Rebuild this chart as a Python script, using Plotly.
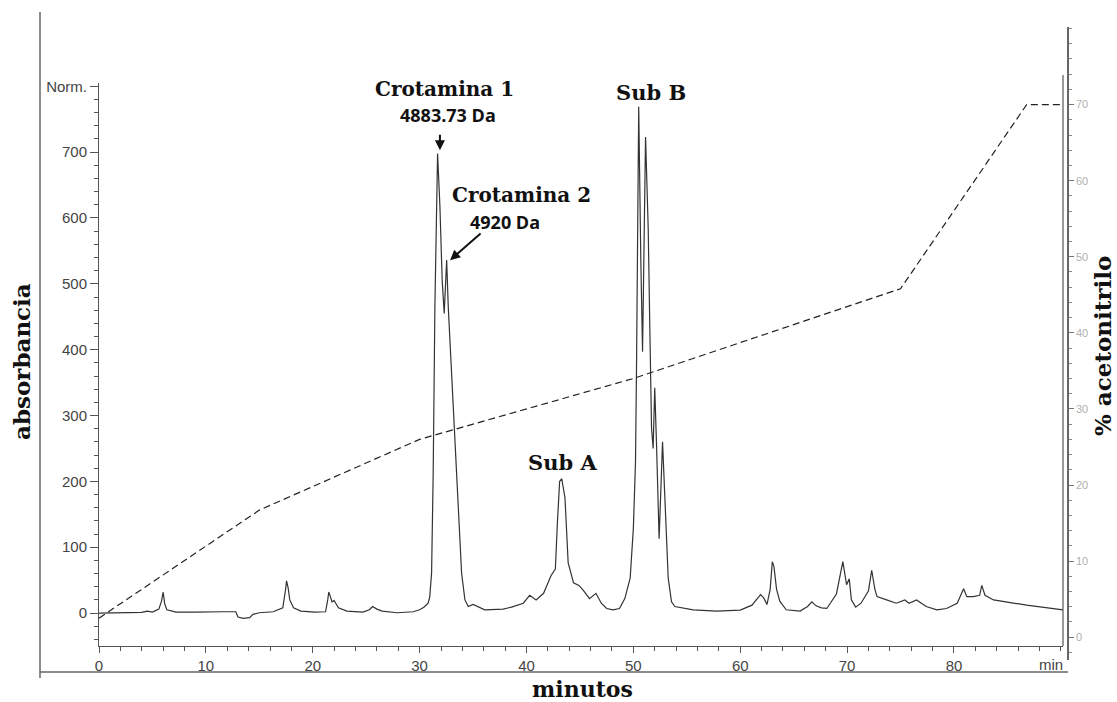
import plotly.graph_objects as go

# ---------------- data ----------------
time_min = [0.0, 1.0, 2.5, 4.0, 4.5, 5.0, 5.6, 5.85, 6.0, 6.15, 6.35, 6.7, 7.2, 9.0, 10.0, 11.5,
            12.8, 13.0, 13.5, 14.1, 14.4, 15.0, 16.3, 16.8, 17.2, 17.45, 17.55, 17.7, 17.85, 18.2,
            18.9, 20.2, 21.2, 21.4, 21.5, 21.65, 21.8, 22.0, 22.4, 23.2, 24.7, 25.3, 25.6, 26.0,
            26.5, 27.9, 29.4, 30.0, 30.4, 30.8, 30.95, 31.12, 31.27, 31.43, 31.59, 31.68, 31.9,
            32.11, 32.3, 32.53, 32.68, 32.99, 33.3, 33.61, 33.93, 34.24, 34.55, 35.0, 35.5, 36.1,
            37.8, 38.6, 39.7, 40.3, 40.9, 41.6, 42.3, 42.7, 42.9, 43.1, 43.3, 43.6, 43.9, 44.4,
            44.9, 45.3, 45.9, 46.5, 47.0, 47.5, 48.1, 48.7, 49.2, 49.7, 50.0, 50.2, 50.3, 50.4,
            50.45, 50.5, 50.7, 50.86, 51.14, 51.39, 51.54, 51.7, 51.85, 52.0, 52.17, 52.41, 52.73,
            52.95, 53.26, 53.57, 53.88, 55.6, 57.8, 60.0, 61.1, 61.5, 61.9, 62.2, 62.5, 62.8, 63.0,
            63.15, 63.4, 63.7, 64.3, 65.6, 66.3, 66.7, 67.1, 67.6, 68.1, 69.0, 69.4, 69.6, 69.8,
            69.95, 70.2, 70.4, 70.8, 71.3, 72.0, 72.3, 72.6, 72.8, 73.7, 74.6, 75.4, 75.8, 76.5,
            77.4, 78.4, 79.3, 80.3, 80.9, 81.2, 81.8, 82.4, 82.6, 82.9, 83.7, 86.8, 90.2]
absorbance = [0, 0, 0.5, 1, 3, 1.5, 6, 18, 32, 14, 5, 4, 1.5, 1.5, 2, 2,
              2, -6, -8, -7, -2, 0.5, 2, 6, 8, 35, 49, 38, 20, 8,
              3, 1.5, 2, 20, 32, 25, 17, 19, 8, 3, 1.5, 5, 10, 6,
              3, 0.5, 2, 5, 9, 15, 25, 61, 213, 465, 668, 698, 617,
              506, 455, 536, 465, 364, 263, 161, 60, 20, 10, 13, 9, 5,
              6, 9, 15, 27, 20, 30, 57, 67, 140, 200, 204, 175, 76, 46,
              42, 35, 22, 30, 15, 7, 5, 7, 22, 53, 129, 230, 382, 584,
              736, 769, 533, 397, 723, 584, 433, 281, 250, 342, 255, 113, 260,
              179, 53, 17, 10, 5, 3, 4.5, 12, 20, 28, 23, 13, 36, 78,
              71, 36, 18, 5, 3, 10, 17, 11, 8, 7, 29, 60, 78, 58,
              43, 52, 20, 9, 15, 34, 65, 36, 25, 20, 15, 20, 15, 20,
              10, 5, 7, 15, 37, 25, 25, 27, 42, 27, 20, 12, 5]

grad_time = [0, 15, 30, 50, 75, 86.8, 90.2]
grad_pct = [2.5, 16.7, 26.0, 34, 45.8, 70, 70]

x_ticks = [0, 10, 20, 30, 40, 50, 60, 70, 80]
y_ticks = [0, 100, 200, 300, 400, 500, 600, 700, 800]
y_ticktext = ["0", "100", "200", "300", "400", "500", "600", "700", "Norm."]
y2_ticks = [0, 10, 20, 30, 40, 50, 60, 70]

# ---------------- geometry helpers (layout only) ----------------
W, H = 1117, 702
ML, MR, MT, MB = 99, 49, 27, 42
PW = W - ML - MR
PH = H - MT - MB


def px(x):
    return (x - ML) / PW


def py(y):
    return (H - MB - y) / PH


fig = go.Figure()

fig.add_trace(go.Scatter(x=time_min, y=absorbance, mode="lines",
                         line=dict(color="#333333", width=1.2),
                         xaxis="x", yaxis="y", showlegend=False, hoverinfo="skip"))
fig.add_trace(go.Scatter(x=grad_time, y=grad_pct, mode="lines",
                         line=dict(color="#222222", width=1.2, dash="7px,4px"),
                         xaxis="x2", yaxis="y2", showlegend=False, hoverinfo="skip"))

tickfont = dict(family="Liberation Sans, Arial, sans-serif", size=15, color="#444444")
xdom = [0, px(1063)]

fig.update_layout(
    width=W, height=H,
    margin=dict(l=ML, r=MR, t=MT, b=MB),
    paper_bgcolor="white", plot_bgcolor="rgba(0,0,0,0)",
    xaxis=dict(domain=xdom, range=[0, 90.2], anchor="y",
               tickmode="array", tickvals=x_ticks, ticks="outside", ticklen=6,
               tickcolor="#555", tickfont=tickfont, showline=True, linecolor="#555",
               linewidth=1, showgrid=False, zeroline=False,
               minor=dict(dtick=2, ticks="outside", ticklen=4, tickcolor="#555")),
    yaxis=dict(domain=[py(646), py(83)], range=[-50, 805], anchor="x",
               tickmode="array", tickvals=y_ticks, ticktext=y_ticktext,
               ticks="outside", ticklen=8, tickcolor="#555", tickfont=tickfont,
               showline=True, linecolor="#555", linewidth=1, showgrid=False, zeroline=False,
               minor=dict(dtick=20, ticks="outside", ticklen=4, tickcolor="#555")),
    xaxis2=dict(domain=xdom, range=[0, 90.2], anchor="y2", visible=False),
    yaxis2=dict(domain=[0, 1], range=[-3.0, 80.2], anchor="free", position=1.0,
                side="right", tickmode="array", tickvals=y2_ticks, ticks="outside",
                ticklen=5, tickcolor="#777",
                tickfont=dict(family="Liberation Sans, Arial, sans-serif", size=11,
                              color="#b0b0b0"),
                showline=True, linecolor="#666", linewidth=1.5, showgrid=False,
                zeroline=False,
                minor=dict(dtick=2, ticks="outside", ticklen=3, tickcolor="#888")),
)

# frame lines (decoration of the scanned figure)
fig.add_shape(type="line", xref="paper", yref="paper", x0=px(40), x1=px(40),
              y0=py(678), y1=py(12), line=dict(color="#666", width=1.5))
fig.add_shape(type="line", xref="paper", yref="paper", x0=px(40), x1=px(1068),
              y0=py(672), y1=py(672), line=dict(color="#666", width=1.5))
fig.add_shape(type="line", xref="paper", yref="paper", x0=px(1063), x1=px(1063),
              y0=py(646), y1=py(75), line=dict(color="#555", width=1.2))

serif = "DejaVu Serif, Liberation Serif, serif"
sansb = "Open Sans, Liberation Sans, sans-serif"


def ann(text, x, y, size, family=serif, color="#111", angle=0, bold=True, **kw):
    fig.add_annotation(text=("<b>%s</b>" % text) if bold else text, xref="paper",
                       yref="paper", x=px(x), y=py(y), showarrow=False,
                       font=dict(family=family, size=size, color=color),
                       textangle=angle, xanchor="center", yanchor="middle", **kw)


ann("absorbancia", 21, 362, 23, angle=-90)
ann("% acetonitrilo", 1102, 346, 23, angle=-90)
ann("minutos", 582, 689, 22)
ann("Crotamina 1", 444, 89, 20)
ann("4883.73 Da", 448, 115, 18, family=sansb)
ann("Crotamina 2", 521, 195, 20)
ann("4920 Da", 505, 222, 18, family=sansb)
ann("Sub B", 651, 92, 21)
ann("Sub A", 562, 463, 21)
ann("min", 1051, 664, 15, family="Liberation Sans, Arial, sans-serif", color="#444",
    bold=False)

# arrows
fig.add_annotation(x=31.9, y=703, xref="x", yref="y", ax=0, ay=-17, axref="pixel",
                   ayref="pixel", showarrow=True, arrowhead=2, arrowsize=1,
                   arrowwidth=2, arrowcolor="#111", text="")
fig.add_annotation(x=32.85, y=536, xref="x", yref="y", ax=32, ay=-28, showarrow=True,
                   arrowhead=2, arrowsize=1, arrowwidth=2, arrowcolor="#111", text="")

fig.write_html("out.html")
